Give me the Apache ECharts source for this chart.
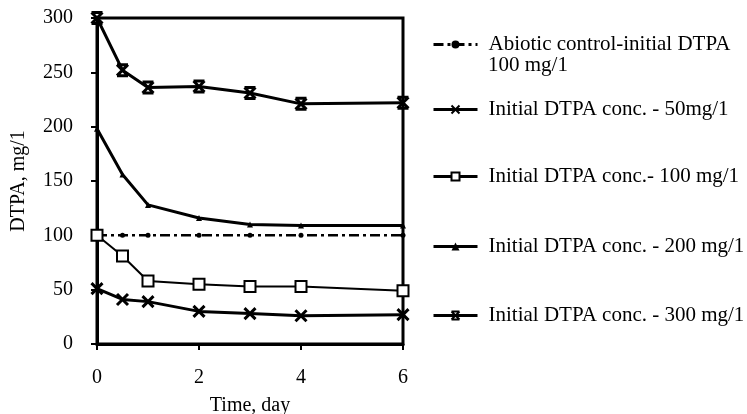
<!DOCTYPE html>
<html><head><meta charset="utf-8">
<script src="https://cdn.jsdelivr.net/npm/echarts@6/dist/echarts.min.js"></script>
<style>html,body{margin:0;padding:0;background:#fff}#c{width:747px;height:414px}</style>
</head><body><div id="c"></div>
<script>
const days = [0, 0.5, 1, 2, 3, 4, 6];
const abiotic100 = [100, 100, 100, 100, 100, 100, 100];
const init50 = [51, 41, 39, 30, 28, 26, 27];
const init100 = [100, 81, 58, 55, 53, 53, 49];
const init200 = [198, 156, 128, 116, 110, 109, 109];
const init300 = [300, 252, 236, 237, 231, 221, 222];
const names = ['Abiotic control-initial DTPA', 'Initial DTPA conc. - 50mg/1', 'Initial DTPA conc.- 100 mg/1', 'Initial DTPA conc. - 200 mg/1', 'Initial DTPA conc. - 300 mg/1'];
const yTicks = [0, 50, 100, 150, 200, 250, 300];
const xTicks = [0, 2, 4, 6];

const pts = arr => days.map((d, i) => [d, arr[i]]);
const font = 'Liberation Serif, Times New Roman, serif';
const xPath = 'path://M0,0L10,10M10,0L0,10';
const starPath = 'path://M0,0L10,10M10,0L0,10M0,0L10,0M0,10L10,10';

const chart = echarts.init(document.getElementById('c'));
const legendTops = [29, 94, 161, 231, 300];
chart.setOption({
  animation: false,
  grid: { left: 97, right: 344, top: 18, bottom: 70, show: true, borderColor: '#000', borderWidth: 3,
          containLabel: false, outerBoundsMode: 'none' },
  xAxis: {
    type: 'value', min: 0, max: 6, interval: 2,
    name: 'Time, day', nameLocation: 'middle', nameGap: 52,
    nameTextStyle: { fontFamily: font, fontSize: 20, color: '#000' },
    axisLine: { lineStyle: { color: '#000', width: 3 } },
    axisTick: { show: true, length: 6, lineStyle: { color: '#000', width: 2 } },
    axisLabel: { fontFamily: font, fontSize: 20, color: '#000', margin: 24 },
    splitLine: { show: false }
  },
  yAxis: {
    type: 'value', min: 0, max: 300, interval: 50,
    name: 'DTPA, mg/1', nameLocation: 'middle', nameGap: 68, nameRotate: 90,
    nameTextStyle: { fontFamily: font, fontSize: 20, color: '#000' },
    axisLine: { lineStyle: { color: '#000', width: 3 } },
    axisTick: { show: true, length: 6, lineStyle: { color: '#000', width: 2 } },
    axisLabel: { fontFamily: font, fontSize: 20, color: '#000', margin: 24 },
    splitLine: { show: false }
  },
  legend: names.map((n, i) => ({
    data: [n], left: 427, top: legendTops[i], orient: 'vertical',
    itemWidth: 44, itemHeight: 10, itemGap: 4,
    lineStyle: { width: 3, color: '#000' },
    textStyle: { fontFamily: font, fontSize: 21, color: '#000', padding: [0, 0, 0, 6] }
  })),
  graphic: [{ type: 'text', left: 488, top: 55, style: { text: '100 mg/1', font: '21px ' + font, fill: '#000' } }],
  series: [
    { name: names[0], type: 'line', data: pts(abiotic100), symbol: 'circle', symbolSize: 5,
      lineStyle: { color: '#000', width: 2.5, type: [10, 4, 3, 4] }, itemStyle: { color: '#000' } },
    { name: names[1], type: 'line', data: pts(init50), symbol: xPath, symbolSize: 11,
      lineStyle: { color: '#000', width: 3 }, itemStyle: { color: '#000', borderColor: '#000', borderWidth: 3 } },
    { name: names[2], type: 'line', data: pts(init100), symbol: 'rect', symbolSize: 11,
      lineStyle: { color: '#000', width: 2 }, itemStyle: { color: '#fff', borderColor: '#000', borderWidth: 2 } },
    { name: names[3], type: 'line', data: pts(init200), symbol: 'triangle', symbolSize: 6,
      lineStyle: { color: '#000', width: 3 }, itemStyle: { color: '#000' } },
    { name: names[4], type: 'line', data: pts(init300), symbol: starPath, symbolSize: 11,
      lineStyle: { color: '#000', width: 3 }, itemStyle: { color: '#000', borderColor: '#000', borderWidth: 3 } }
  ]
});
</script></body></html>
